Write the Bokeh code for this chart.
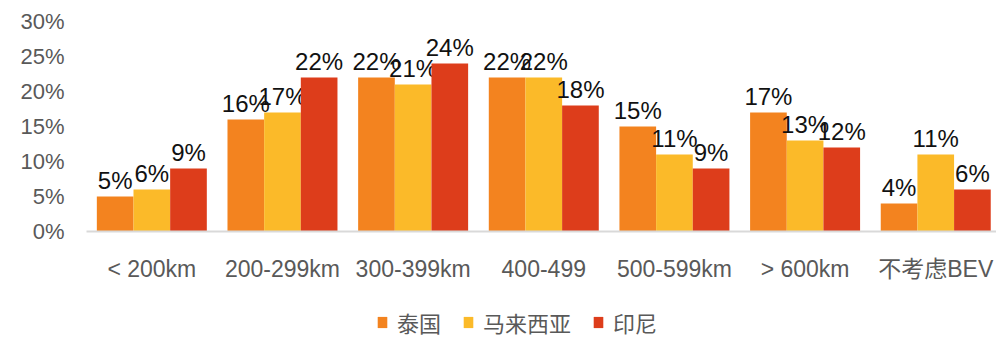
from bokeh.plotting import figure
from bokeh.models import ColumnDataSource, Range1d, Legend, LegendItem, FixedTicker
from bokeh.layouts import column
from bokeh.core.properties import value
from bokeh.embed import file_html
from bokeh.resources import INLINE

categories = ["< 200km", "200-299km", "300-399km", "400-499", "500-599km", "> 600km", "不考虑BEV"]
series_names = ["泰国", "马来西亚", "印尼"]
thailand = [5, 16, 22, 22, 15, 17, 4]
malaysia = [6, 17, 21, 22, 11, 13, 11]
indonesia = [9, 22, 24, 18, 9, 12, 6]
colors = ["#F3831F", "#FBBA29", "#DD3D1B"]
y_ticks = [0, 5, 10, 15, 20, 25, 30]

FONT = "Liberation Sans, Arial, Noto Sans CJK SC"

# category centers on a numeric scale (one unit per category)
cat_pos = [i + 0.5 for i in range(len(categories))]

p = figure(width=996, height=300, x_range=Range1d(0, 6.965), y_range=Range1d(0, 30),
           output_backend="svg", toolbar_location=None,
           min_border_left=86, min_border_right=0, min_border_top=21, min_border_bottom=69)
p.outline_line_color = None
p.grid.grid_line_color = None
p.background_fill_color = "white"

bw = 0.2806
offsets = [-bw, 0, bw]
for name, vals, col, off in zip(series_names, [thailand, malaysia, indonesia], colors, offsets):
    src = ColumnDataSource(dict(x=[c + off for c in cat_pos], y=vals, label=[f"{v}%" for v in vals]))
    p.vbar(x="x", top="y", width=bw, source=src, fill_color=col, line_color=None)
    p.text(x="x", y="y", text="label", source=src,
           text_align="center", text_baseline="alphabetic", y_offset=-16,
           text_font=value(FONT), text_font_size="24px", text_color="#111111")

p.yaxis.ticker = FixedTicker(ticks=y_ticks)
p.yaxis.major_label_overrides = {t: f"{t}%" for t in y_ticks}
p.yaxis.axis_line_color = None
p.yaxis.major_tick_line_color = None
p.yaxis.minor_tick_line_color = None
p.yaxis.major_label_text_font = FONT
p.yaxis.major_label_text_font_size = "22px"
p.yaxis.major_label_text_color = "#595959"
p.yaxis.major_label_standoff = 16

p.xaxis.ticker = FixedTicker(ticks=cat_pos)
p.xaxis.major_label_overrides = {c: lab for c, lab in zip(cat_pos, categories)}
p.xaxis.axis_line_color = "#D9D9D9"
p.xaxis.axis_line_width = 2
p.xaxis.major_tick_line_color = None
p.xaxis.minor_tick_line_color = None
p.xaxis.major_label_text_font = FONT
p.xaxis.major_label_text_font_size = "23px"
p.xaxis.major_label_text_color = "#595959"
p.xaxis.major_label_standoff = 18

# legend strip below the chart (its frame is aligned with the chart frame)
pl = figure(width=996, height=39, x_range=Range1d(0, 1), y_range=Range1d(0, 1),
            output_backend="svg", toolbar_location=None,
            x_axis_type=None, y_axis_type=None, min_border=0)
pl.outline_line_color = None
pl.grid.grid_line_color = None
items = []
for name, col in zip(series_names, colors):
    # swatch-only renderer, placed outside the visible range
    r = pl.vbar(x=[10], top=[10], bottom=[9], width=0.1, fill_color=col, line_color=None)
    items.append(LegendItem(label=name, renderers=[r]))
legend = Legend(items=items, orientation="horizontal", location=(290, 1),
                glyph_width=12, glyph_height=14, label_text_font=FONT,
                label_text_font_size="22px", label_text_color="#595959",
                label_height=22, spacing=21, padding=0, margin=0, border_line_color=None,
                background_fill_alpha=0, label_standoff=9)
pl.add_layout(legend, "center")

layout = column(p, pl, spacing=0)
open("out.html", "w").write(file_html(layout, INLINE))
